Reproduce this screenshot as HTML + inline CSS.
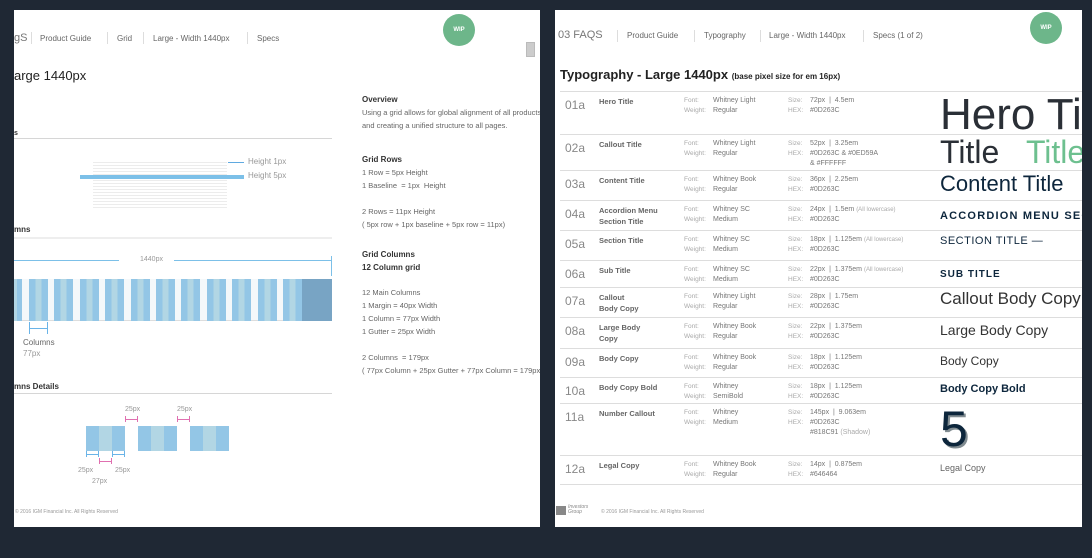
<!DOCTYPE html>
<html><head><meta charset="utf-8"><style>
*{margin:0;padding:0;box-sizing:border-box}
body{width:1092px;height:558px;background:#1f2834;position:relative;overflow:hidden;font-family:"Liberation Sans",sans-serif}
.pg{position:absolute;background:#fff;overflow:hidden}
.t{position:absolute;white-space:nowrap;color:#666;font-size:8px;line-height:1}
.b{font-weight:bold;color:#333}
.hl{position:absolute;height:1px;background:#d6d6d6}
.sep{position:absolute;width:1px;height:12px;background:#ddd}
.wip{position:absolute;width:32px;height:32px;border-radius:50%;background:#6db68a;color:#fff;font-size:6px;font-weight:bold;text-align:center;line-height:32px}
</style></head><body>
<div class="pg" style="left:14px;top:10px;width:526px;height:517px">
 <div class="t" style="left:0;top:23px;font-size:11px;color:#777">gS</div>
 <div class="sep" style="left:17px;top:22px"></div>
 <div class="t" style="left:26px;top:25px">Product Guide</div>
 <div class="sep" style="left:93px;top:22px"></div>
 <div class="t" style="left:103px;top:25px">Grid</div>
 <div class="sep" style="left:129px;top:22px"></div>
 <div class="t" style="left:139px;top:25px">Large - Width 1440px</div>
 <div class="sep" style="left:233px;top:22px"></div>
 <div class="t" style="left:243px;top:25px">Specs</div>
 <div class="wip" style="left:429px;top:4px">WIP</div>
 <div style="position:absolute;left:512px;top:32px;width:9px;height:15px;background:#ccc;border:1px solid #bbb"></div>
 <div class="t" style="left:0;top:59px;font-size:13px;color:#222">arge 1440px</div>
 <div class="t b" style="left:0;top:120px;font-size:7px">s</div>
 <div class="hl" style="left:0;top:128px;width:318px"></div>
 <div style="position:absolute;left:79px;top:150px;width:134px;height:50px;background:repeating-linear-gradient(#fff 0,#fff 2px,#ececec 2px,#ececec 3px)"></div>
 <div style="position:absolute;left:66px;top:165px;width:164px;height:4px;background:#7cc0e8"></div>
 <div style="position:absolute;left:214px;top:152px;width:16px;height:1px;background:#5fa9e0"></div>
 <div class="t" style="left:234px;top:148px;color:#999">Height 1px</div>
 <div class="t" style="left:234px;top:162px;color:#999">Height 5px</div>
 <div class="t b" style="left:0;top:216px">mns</div>
 <div class="hl" style="left:0;top:227px;width:318px;height:2px;background:#eee"></div>
 <div style="position:absolute;left:0;top:250px;width:105px;height:1px;background:#7cc0e8"></div>
 <div class="t" style="left:126px;top:246px;font-size:7px;color:#999">1440px</div>
 <div style="position:absolute;left:160px;top:250px;width:158px;height:1px;background:#7cc0e8"></div>
 <div style="position:absolute;left:317px;top:246px;width:1px;height:20px;background:#7cc0e8"></div>
 <div id="cols" style="position:absolute;left:0;top:269px;width:318px;height:42px;background:#f4f8fa;border-bottom:1px solid #ddd"></div>
 <div style="position:absolute;left:15px;top:312px;width:19px;height:12px;border:1px solid #6ab4e8;border-bottom:none;border-top:none"></div>
 <div style="position:absolute;left:15px;top:318px;width:19px;height:1px;background:#6ab4e8"></div>
 <div class="t" style="left:9px;top:329px">Columns</div>
 <div class="t" style="left:9px;top:340px;color:#999">77px</div>
 <div class="t b" style="left:0;top:373px">mns Details</div>
 <div class="hl" style="left:0;top:383px;width:318px"></div>
 <div id="det"></div>
 <div class="t" style="left:1px;top:500px;font-size:5px;color:#999">© 2016 IGM Financial Inc. All Rights Reserved</div>
 <div class="t b" style="left:348px;top:86px;font-size:8px">Overview</div>
 <div class="t" style="left:348px;top:99px;font-size:7.5px">Using a grid allows for global alignment of all products</div>
 <div class="t" style="left:348px;top:112px;font-size:7.5px">and creating a unified structure to all pages.</div>
 <div class="t b" style="left:348px;top:146px;font-size:8px">Grid Rows</div>
 <div class="t" style="left:348px;top:159px;font-size:7.5px">1 Row = 5px Height</div>
 <div class="t" style="left:348px;top:172px;font-size:7.5px">1 Baseline &nbsp;= 1px &nbsp;Height</div>
 <div class="t" style="left:348px;top:198px;font-size:7.5px">2 Rows = 11px Height</div>
 <div class="t" style="left:348px;top:211px;font-size:7.5px">( 5px row + 1px baseline + 5px row = 11px)</div>
 <div class="t b" style="left:348px;top:241px;font-size:8px">Grid Columns</div>
 <div class="t b" style="left:348px;top:254px;font-size:8px">12 Column grid</div>
 <div class="t" style="left:348px;top:279px;font-size:7.5px">12 Main Columns</div>
 <div class="t" style="left:348px;top:292px;font-size:7.5px">1 Margin = 40px Width</div>
 <div class="t" style="left:348px;top:305px;font-size:7.5px">1 Column = 77px Width</div>
 <div class="t" style="left:348px;top:318px;font-size:7.5px">1 Gutter = 25px Width</div>
 <div class="t" style="left:348px;top:344px;font-size:7.5px">2 Columns &nbsp;= 179px</div>
 <div class="t" style="left:348px;top:357px;font-size:7.5px">( 77px Column + 25px Gutter + 77px Column = 179px )</div>
</div>

<div class="pg" style="left:555px;top:10px;width:527px;height:517px">
 <div class="t" style="left:3px;top:20px;font-size:11px;color:#777">03 FAQS</div>
 <div class="sep" style="left:62px;top:20px"></div>
 <div class="t" style="left:72px;top:22px">Product Guide</div>
 <div class="sep" style="left:139px;top:20px"></div>
 <div class="t" style="left:149px;top:22px">Typography</div>
 <div class="sep" style="left:205px;top:20px"></div>
 <div class="t" style="left:214px;top:22px">Large - Width 1440px</div>
 <div class="sep" style="left:308px;top:20px"></div>
 <div class="t" style="left:318px;top:22px">Specs (1 of 2)</div>
 <div class="wip" style="left:475px;top:2px">WIP</div>
 <div class="t" style="left:5px;top:58px;font-size:13px;color:#222;font-weight:bold">Typography - Large 1440px <span style="font-size:8px">(base pixel size for em 16px)</span></div>
 <div id="rows"></div>
 <div style="position:absolute;left:1px;top:496px;width:10px;height:9px;background:#888"></div>
 <div class="t" style="left:13px;top:495px;font-size:5px;font-style:italic;color:#888">Investors<br>Group</div>
 <div class="t" style="left:46px;top:500px;font-size:5px;color:#999">© 2016 IGM Financial Inc. All Rights Reserved</div>
</div>
<script>
const cols=document.getElementById('cols');
function mk(parent,css,name){const d=document.createElement('div');d.style.cssText='position:absolute;'+css;


parent.appendChild(d);return d;}
function col(p,x,y,w,h,name){mk(p,`left:${x}px;top:${y}px;width:${w}px;height:${h}px;background:linear-gradient(90deg,#93c6e6 0,#93c6e6 33%,#b2d6e4 33%,#b2d6e4 67%,#93c6e6 67%)`,name);}
mk(cols,'left:0;top:0;width:8px;height:42px;background:linear-gradient(90deg,#b2d6e4 0,#b2d6e4 40%,#93c6e6 40%)','column-partial');
for(let i=0;i<11;i++){col(cols,15+i*25.4,0,19,42,'grid-column');}
mk(cols,'left:288px;top:0;width:30px;height:42px;background:#78a4c4','margin-block');
const det=document.getElementById('det');
[72,124,176].forEach(x=>col(det,x,416,39,25,'detail-column'));
function pink(x,y,w,c){mk(det,`left:${x}px;top:${y}px;width:${w}px;height:6px;border-left:1px solid ${c};border-right:1px solid ${c}`,'bracket');mk(det,`left:${x}px;top:${y+3}px;width:${w}px;height:1px;background:${c}`,'bracket-line');}
pink(111,406,13,'#e070b0');pink(163,406,13,'#e070b0');
pink(72,441,13,'#6ab4e8');pink(98,441,13,'#6ab4e8');pink(85,448,13,'#e070b0');
[[111,396,'25px'],[163,396,'25px'],[64,457,'25px'],[101,457,'25px'],[78,468,'27px']].forEach(a=>{const t=mk(det,`left:${a[0]}px;top:${a[1]}px;font-size:7px;color:#999;white-space:nowrap`,'dimension-label');t.textContent=a[2];});
const rowTops=[81,124,160,190,220,250,277,307,338,367,393,445,474];
const ids=['01a','02a','03a','04a','05a','06a','07a','08a','09a','10a','11a','12a'];
const names=['Hero Title','Callout Title','Content Title','Accordion Menu<br>Section Title','Section Title','Sub Title','Callout<br>Body Copy','Large Body<br>Copy','Body Copy','Body Copy Bold','Number Callout','Legal Copy'];
const fonts=['Whitney Light','Whitney Light','Whitney Book','Whitney SC','Whitney SC','Whitney SC','Whitney Light','Whitney Book','Whitney Book','Whitney','Whitney','Whitney Book'];
const weights=['Regular','Regular','Regular','Medium','Medium','Medium','Regular','Regular','Regular','SemiBold','Medium','Regular'];
const sizes=['72px &nbsp;| &nbsp;4.5em','52px &nbsp;| &nbsp;3.25em','36px &nbsp;| &nbsp;2.25em','24px &nbsp;| &nbsp;1.5em <span style="font-size:6px;color:#aaa">(All lowercase)</span>','18px &nbsp;| &nbsp;1.125em <span style="font-size:6px;color:#aaa">(All lowercase)</span>','22px &nbsp;| &nbsp;1.375em <span style="font-size:6px;color:#aaa">(All lowercase)</span>','28px &nbsp;| &nbsp;1.75em','22px &nbsp;| &nbsp;1.375em','18px &nbsp;| &nbsp;1.125em','18px &nbsp;| &nbsp;1.125em','145px &nbsp;| &nbsp;9.063em','14px &nbsp;| &nbsp;0.875em'];
const hexes=['#0D263C','#0D263C &amp; #0ED59A<br>&amp; #FFFFFF','#0D263C','#0D263C','#0D263C','#0D263C','#0D263C','#0D263C','#0D263C','#0D263C','#0D263C<br>#818C91 <span style="color:#aaa">(Shadow)</span>','#646464'];
const samples=['Hero Title','Title &nbsp;&nbsp;<span style="color:#6dc08f">Title</span>','Content Title','ACCORDION MENU SECTION','SECTION TITLE —','SUB TITLE','Callout Body Copy','Large Body Copy','Body Copy','Body Copy Bold','5','Legal Copy'];
const sStyle=['font-size:44px;top:2px;color:#2a2f36','font-size:32px;top:2px;color:#2a2f36','font-size:22px;top:3px','font-size:11px;font-weight:bold;letter-spacing:1.2px;top:11px','font-size:11px;letter-spacing:.5px;top:6px','font-size:10px;font-weight:bold;letter-spacing:1px;top:10px','font-size:17px;top:3px;color:#333','font-size:14px;top:6px;color:#333','font-size:12px;top:7px;color:#333','font-size:11px;font-weight:bold;top:7px','font-size:50px;top:1px;text-shadow:2px 2px 0 #818c91','font-size:9px;color:#646464;top:9px'];
const rows=document.getElementById('rows');
for(let i=0;i<ids.length;i++){
 const y=rowTops[i];
 mk(rows,`left:5px;top:${y}px;width:522px;height:1px;background:#ddd`,'row-divider');
 const r=mk(rows,`left:0;top:${y}px;width:527px;height:${rowTops[i+1]-y}px`,'type-row-'+ids[i]);
 const add=(css,html,name)=>{const t=mk(r,'white-space:nowrap;line-height:1.25;'+css,name);t.innerHTML=html;};
 add('left:10px;top:7px;font-size:12px;color:#888',ids[i],'row-id');
 add('left:44px;top:5px;font-size:7.5px;font-weight:bold;color:#666;line-height:1.5',names[i],'style-name');
 add('left:129px;top:5px;font-size:6.5px;color:#aaa;line-height:1.55','Font:<br>Weight:','font-labels');
 add('left:158px;top:5px;font-size:7px;color:#777;line-height:1.45',fonts[i]+'<br>'+weights[i],'font-values');
 add('left:233px;top:5px;font-size:6.5px;color:#aaa;line-height:1.55','Size:<br>HEX:','size-labels');
 add('left:255px;top:5px;font-size:7px;color:#777;line-height:1.45',sizes[i]+'<br>'+hexes[i],'size-values');
 add('left:385px;color:#0d263c;line-height:1;'+sStyle[i],samples[i],'type-sample');
}
mk(rows,`left:5px;top:${rowTops[12]}px;width:522px;height:1px;background:#ddd`,'row-divider');
</script>
</body></html>
